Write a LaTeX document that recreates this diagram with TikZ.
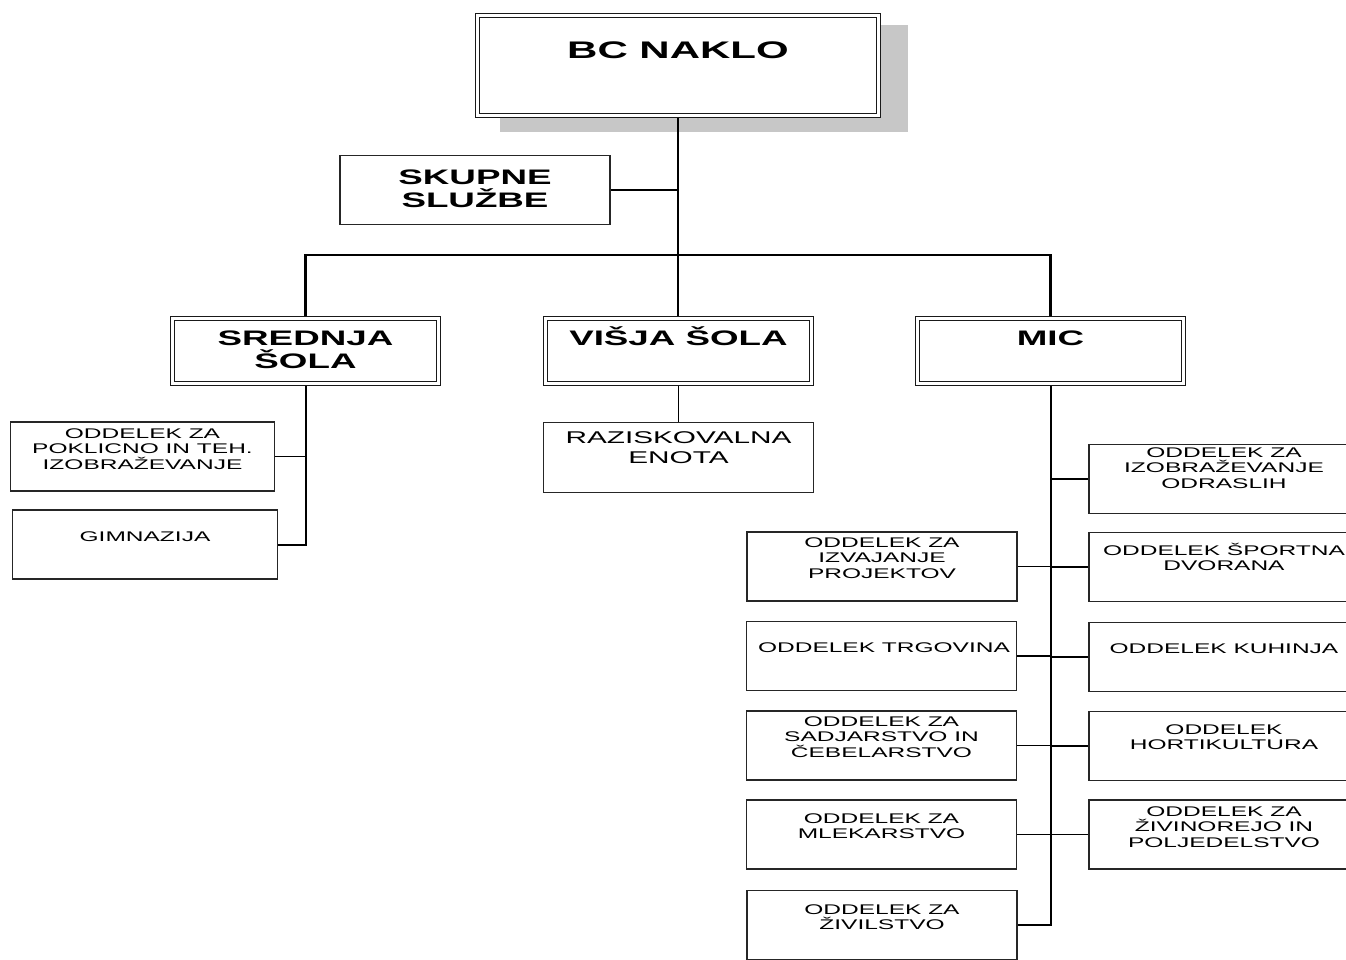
\documentclass[tikz,border=0pt]{standalone}
\usepackage{fontspec}
\setmainfont[FakeStretch=1.75]{Liberation Sans}
\usetikzlibrary{backgrounds}
\newcommand\fl{\rule{0pt}{1em}}
\tikzset{
  box/.style={draw=black!85, line width=1.2pt, fill=white, minimum width=270pt, minimum height=69pt, inner sep=0pt},
  dbox/.style={draw=black!90, double=white, double distance=2.6pt, line width=1.1pt, fill=white, minimum width=266pt, minimum height=65pt, inner sep=0pt},
  stxt/.style={anchor=north, inner sep=0pt, align=center, font={\fontsize{14}{15.5}\selectfont}},
  mtxt/.style={anchor=north, inner sep=0pt, align=center, font={\fontsize{17}{20}\selectfont}},
  btxt/.style={anchor=north, inner sep=0pt, align=center, font={\bfseries\fontsize{21}{23}\selectfont}},
  ttxt/.style={anchor=north, inner sep=0pt, align=center, font={\bfseries\fontsize{24}{28}\selectfont}},
  trunk/.style={line width=2.6pt},
  stem/.style={line width=2pt},
  twig/.style={line width=1.2pt},
  shadow/.style={fill=black!22},
}
\begin{document}
\begin{tikzpicture}[x=1pt,y=-1pt]
\useasboundingbox (0,0) rectangle (1346,959);

% top level
\node[dbox, minimum width=401pt, minimum height=100pt] (bc) at (678,65.5) {};
\node[box] (sk) at (475,190) {};
\node[dbox] (sr) at (305.5,351) {};
\node[dbox] (vs) at (678.5,351) {};
\node[dbox] (mic) at (1050.5,351) {};

% srednja sola
\node[box, minimum width=264pt] (pok) at (142.5,456.5) {};
\node[box, minimum width=265pt] (gim) at (145,544.5) {};

% visja sola
\node[box, minimum height=70pt] (raz) at (678.5,457.5) {};

% MIC left
\node[box] (izv) at (882,566.5) {};
\node[box] (trg) at (881.5,656) {};
\node[box] (sad) at (881.5,745.5) {};
\node[box] (mle) at (881.5,834.5) {};
\node[box] (ziv) at (882,925) {};

% MIC right
\node[box] (odr) at (1224,479) {};
\node[box] (spo) at (1224,567) {};
\node[box] (kuh) at (1224,657) {};
\node[box] (hor) at (1224,746) {};
\node[box] (zvr) at (1224,834.5) {};

% texts
\node[ttxt] (t-bc) at (678,34.5) {\fl BC NAKLO};
\node[btxt] (t-sk) at (475,163.5) {\fl SKUPNE\\SLUŽBE};
\node[btxt] (t-sr) at (305.5,324.5) {\fl SREDNJA\\ŠOLA};
\node[btxt] (t-vs) at (678.5,324.5) {\fl VIŠJA ŠOLA};
\node[btxt] (t-mic) at (1050.5,324.5) {\fl MIC};
\node[stxt] (t-pok) at (142.5,424) {\fl ODDELEK ZA\\POKLICNO IN TEH.\\IZOBRAŽEVANJE};
\node[stxt] (t-gim) at (145,527) {\fl GIMNAZIJA};
\node[mtxt] (t-raz) at (678.5,426) {\fl RAZISKOVALNA\\ENOTA};
\node[stxt] (t-izv) at (882,533) {\fl ODDELEK ZA\\IZVAJANJE\\PROJEKTOV};
\node[stxt] (t-trg) at (884,638) {\fl ODDELEK TRGOVINA};
\node[stxt] (t-sad) at (881.5,712) {\fl ODDELEK ZA\\SADJARSTVO IN\\ČEBELARSTVO};
\node[stxt] (t-mle) at (881.5,809) {\fl ODDELEK ZA\\MLEKARSTVO};
\node[stxt] (t-ziv) at (882,900) {\fl ODDELEK ZA\\ŽIVILSTVO};
\node[stxt] (t-odr) at (1224,443) {\fl ODDELEK ZA\\IZOBRAŽEVANJE\\ODRASLIH};
\node[stxt] (t-spo) at (1224,541) {\fl ODDELEK ŠPORTNA\\DVORANA};
\node[stxt] (t-kuh) at (1224,639) {\fl ODDELEK KUHINJA};
\node[stxt] (t-hor) at (1224,720) {\fl ODDELEK\\HORTIKULTURA};
\node[stxt] (t-zvr) at (1224,802) {\fl ODDELEK ZA\\ŽIVINOREJO IN\\POLJEDELSTVO};

\begin{scope}[on background layer]
  \fill[shadow] (500,25) rectangle (908,132);
  \coordinate (bus) at (678,255);
  \draw[trunk] (bc.south) -- (bc.south |- vs.north);
  \draw[twig] (sk.east) -- (sk.east -| bc.south);
  \draw[trunk] (sr.north) |- (bus) -| (mic.north);
  % srednja
  \draw[stem] (sr.south) -- (sr.south |- gim.east) -- (gim.east);
  \draw[twig] (pok.east) -- (pok.east -| sr.south);
  % visja
  \draw[twig] (vs.south) -- (vs.south |- raz.north);
  % MIC
  \draw[stem] (mic.south) -- (mic.south |- ziv.east) -- (ziv.east);
  \draw[twig] (izv.east) -- (izv.east -| mic.south);
  \draw[twig] (trg.east) -- (trg.east -| mic.south);
  \draw[twig] (sad.east) -- (sad.east -| mic.south);
  \draw[twig] (mle.east) -- (mle.east -| mic.south);
  \draw[twig] (odr.west) -- (odr.west -| mic.south);
  \draw[twig] (spo.west) -- (spo.west -| mic.south);
  \draw[twig] (kuh.west) -- (kuh.west -| mic.south);
  \draw[twig] (hor.west) -- (hor.west -| mic.south);
  \draw[twig] (zvr.west) -- (zvr.west -| mic.south);
\end{scope}
\end{tikzpicture}
\end{document}
